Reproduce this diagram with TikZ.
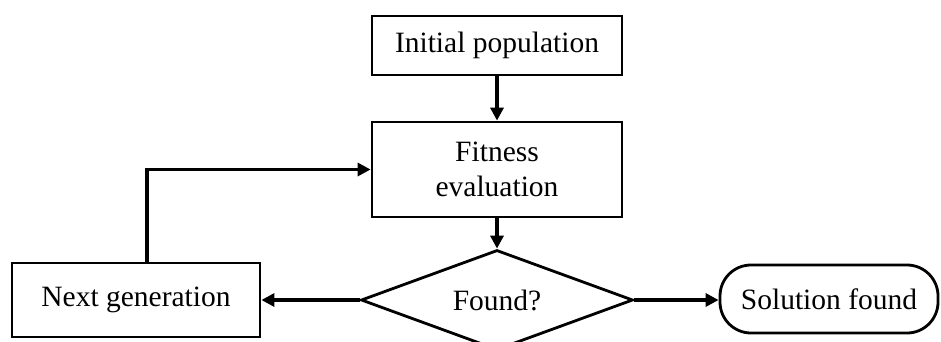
\documentclass[tikz,border=0pt]{standalone}
\usepackage{fontspec}
\setmainfont{Liberation Serif}
\usetikzlibrary{arrows.meta,shapes.geometric}
\begin{document}
\begin{tikzpicture}[x=1pt,y=-1pt,
  box/.style={draw,line width=2.8pt,inner sep=0pt,align=center,font=\fontsize{29.5}{35}\selectfont},
  arr/.style={line width=3.2pt,-{Triangle[length=13pt,width=13pt]}}]
\useasboundingbox[fill=white] (0,0) rectangle (941,341);
\node[box,minimum width=250pt,minimum height=59pt] (init) at (497,45.5) {Initial population};
\node[box,minimum width=250pt,minimum height=95pt] (fit) at (497,169.5) {Fitness\\evaluation};
\node[box,minimum width=248pt,minimum height=74pt] (next) at (136,300) {Next generation};
\node[box,shape=diamond,aspect=2.72,minimum width=272pt,minimum height=100pt] (found) at (497,300) {Found?};
\node[box,rounded corners=31pt,minimum width=218pt,minimum height=68pt] (sol) at (829,299) {Solution found};
\coordinate (fb) at (147,169);
\draw[arr] (init) -- (fit);
\draw[arr] (fit) -- (found);
\draw[arr] (found.west) -- (found.west -| next.east);
\draw[arr] (found.east) -- (found.east -| sol.west);
\draw[arr] (next.north -| fb) |- (fit.west);
\end{tikzpicture}
\end{document}
